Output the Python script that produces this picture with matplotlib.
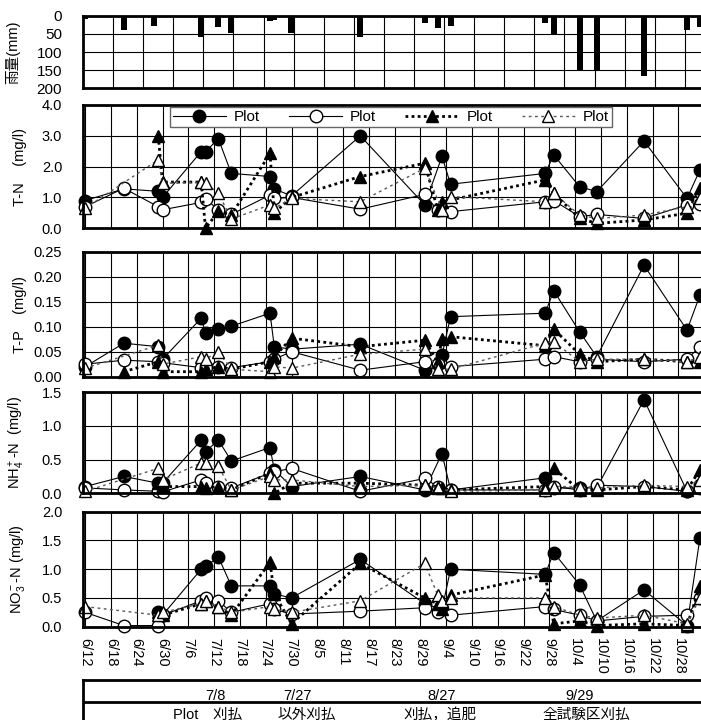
import numpy as np
import matplotlib
matplotlib.use("Agg")
import matplotlib.pyplot as plt
from matplotlib.ticker import MultipleLocator

plt.rcParams['font.family'] = ['Liberation Sans', 'Noto Sans CJK JP']
plt.rcParams['mathtext.fontset'] = 'custom'
plt.rcParams['mathtext.rm'] = 'Liberation Sans'
plt.rcParams['mathtext.it'] = 'Liberation Sans'

# ---- data ----
dates = ["6/12", "6/21", "6/29", "6/30", "7/9", "7/10", "7/13", "7/16", "7/25", "7/26",
         "7/30", "8/15", "8/30", "9/2", "9/3", "9/5", "9/27", "9/29", "10/5", "10/9",
         "10/20", "10/30", "11/2"]
N = None

rain_dates = ["6/12", "6/21", "6/28", "7/9", "7/13", "7/16", "7/25", "7/26", "7/30", "8/15",
              "8/30", "9/2", "9/5", "9/27", "9/29", "10/5", "10/9", "10/20", "10/30", "11/2"]
rain_mm = [10, 39, 28, 60, 32, 47, 14, 12, 47, 60,
           21, 35, 27, 21, 50, 150, 153, 165, 39, 32]

# T-N (mg/l)
tn_1 = [0.90, 1.28, 1.20, 1.00, 2.49, 2.49, 2.90, 1.78, 1.68, 1.28, 1.05, 3.00, 0.76, N, 2.33, 1.43, 1.78, 2.38, 1.35, 1.19, 2.83, 0.97, 1.89]
tn_2 = [0.70, 1.30, 0.70, 0.60, 0.84, 0.95, 0.60, 0.45, 1.08, 0.97, 1.00, 0.62, 1.10, 0.58, N, 0.54, 0.86, 0.90, 0.38, 0.45, 0.32, 0.76, 0.80]
tn_3 = [N, N, 3.00, 1.50, 1.50, 0.00, 0.55, 0.43, 2.43, 0.50, 1.00, 1.68, 2.11, 0.60, 0.86, N, 1.57, 1.14, 0.32, 0.16, 0.27, 0.49, 1.30]
tn_4 = [0.65, N, 2.22, 1.46, 1.49, 1.46, 1.14, 0.30, 0.76, 0.65, 0.97, 0.86, 1.95, N, 0.60, 1.03, 0.86, 1.14, 0.43, 0.32, 0.43, 0.70, 0.97]

# T-P (mg/l)
tp_1 = [0.020, 0.067, 0.060, 0.035, 0.117, 0.088, 0.095, 0.101, 0.127, 0.060, 0.055, 0.065, 0.013, N, 0.043, 0.120, 0.127, 0.172, 0.090, 0.040, 0.223, 0.093, 0.163]
tp_2 = [0.025, 0.033, 0.030, 0.028, 0.018, 0.020, 0.020, 0.018, 0.030, 0.035, 0.050, 0.013, 0.030, 0.025, N, 0.020, 0.035, 0.040, 0.030, 0.035, 0.030, 0.035, 0.060]
tp_3 = [N, 0.010, 0.030, 0.010, 0.010, 0.015, 0.020, 0.015, 0.030, 0.040, 0.077, 0.060, 0.073, 0.030, 0.075, 0.080, 0.062, 0.095, 0.045, 0.030, 0.035, 0.030, 0.030]
tp_4 = [0.017, N, 0.063, 0.025, 0.040, 0.035, 0.050, 0.015, 0.010, 0.020, 0.017, 0.045, 0.055, 0.015, N, 0.015, 0.067, 0.070, 0.030, 0.035, 0.035, 0.030, 0.040]

# NH4+-N (mg/l)
nh_1 = [0.10, 0.25, 0.15, 0.15, 0.79, 0.62, 0.79, 0.48, 0.68, 0.35, 0.10, 0.25, 0.05, N, 0.59, 0.05, 0.23, 0.08, 0.08, 0.08, 1.39, 0.03, 0.12]
nh_2 = [0.08, 0.05, 0.03, 0.02, 0.20, 0.15, 0.10, 0.08, 0.30, 0.32, 0.37, 0.03, 0.22, 0.10, N, 0.05, 0.05, 0.10, 0.05, 0.12, 0.10, 0.03, 0.08]
nh_3 = [N, N, 0.15, 0.10, 0.10, 0.08, 0.10, 0.05, 0.30, 0.00, 0.15, 0.15, 0.12, 0.10, 0.08, 0.05, 0.10, 0.37, 0.05, 0.05, 0.10, 0.05, 0.35]
nh_4 = [0.03, N, 0.37, 0.20, 0.45, 0.45, 0.40, 0.05, 0.25, 0.20, 0.20, 0.10, 0.12, 0.08, N, 0.03, 0.05, 0.10, 0.10, 0.08, 0.12, 0.10, 0.20]

# NO3--N (mg/l)
no_1 = [N, N, 0.25, 0.20, 1.00, 1.05, 1.21, 0.71, 0.71, 0.57, 0.50, 1.17, 0.40, N, 0.30, 1.00, 0.91, 1.29, 0.73, 0.10, 0.64, 0.02, 1.54]
no_2 = [0.25, 0.02, 0.02, 0.20, 0.45, 0.50, 0.45, 0.25, 0.40, 0.30, 0.22, 0.27, 0.33, 0.25, N, 0.20, 0.35, 0.30, 0.20, 0.10, 0.18, 0.20, 0.50]
no_3 = [N, N, 0.25, 0.20, 0.40, 0.45, 0.35, 0.20, 1.12, 0.57, 0.05, 1.10, 0.50, 0.40, 0.30, 0.55, 0.90, 0.05, 0.10, 0.02, 0.05, 0.02, 0.70]
no_4 = [0.35, N, 0.20, 0.25, 0.40, 0.45, 0.35, 0.25, 0.35, 0.30, 0.25, 0.45, 1.10, 0.55, 0.45, 0.50, 0.50, 0.35, 0.20, 0.15, 0.20, 0.05, 0.50]

tick_labels = ["6/12", "6/18", "6/24", "6/30", "7/6", "7/12", "7/18", "7/24", "7/30", "8/5",
               "8/11", "8/17", "8/23", "8/29", "9/4", "9/10", "9/16", "9/22", "9/28", "10/4",
               "10/10", "10/16", "10/22", "10/28", "11/3"]

event_dates = ["7/8", "7/27", "8/27", "9/29"]
event_texts = ["Plot\u3000刈払", "以外刈払", "刈払，追肥", "全試験区刈払"]

MONTH_START = {6: 0, 7: 30, 8: 61, 9: 92, 10: 122, 11: 153}


def to_day(s):
    m, d = s.split('/')
    return MONTH_START[int(m)] + int(d) - 12


x_all = np.array([to_day(s) for s in dates])
W, H = 701, 720
X_LEFT, X_RIGHT = 83, 730
XMIN, XMAX = -0.5, 150


def make_axes(fig, top, bottom):
    return fig.add_axes([X_LEFT / W, 1 - bottom / H, (X_RIGHT - X_LEFT) / W, (bottom - top) / H])


def style_axes(ax, ymax, ystep, fmt, label, label_x=-0.087):
    ax.set_xlim(XMIN, XMAX)
    ax.set_ylim(0, ymax)
    yt = np.arange(0, ymax + ystep / 2, ystep)
    ax.set_yticks(yt)
    ax.set_yticklabels([fmt.format(v) for v in yt], fontsize=10.5)
    ax.set_xticks([to_day(s) for s in tick_labels])
    ax.grid(True, color='black', linewidth=0.8)
    ax.set_axisbelow(True)
    ax.tick_params(length=0, pad=15)
    ax.tick_params(axis='x', labelbottom=False)
    for sp in ax.spines.values():
        sp.set_linewidth(2)
    ax.set_ylabel(label, fontsize=10.5)
    ax.yaxis.set_label_coords(label_x, 0.5)


def plot_series(ax, values):
    s1, s2, s3, s4 = values
    styles = [
        dict(color='black', lw=0.8, ls='-', marker='o', mfc='black', mec='black'),
        dict(color='black', lw=0.8, ls='-', marker='o', mfc='white', mec='black'),
        dict(color='black', lw=2.0, ls=(0, (1, 1.2)), marker='^', mfc='black', mec='black'),
        dict(color='0.35', lw=1.0, ls=(0, (2, 2.5)), marker='^', mfc='white', mec='black'),
    ]
    handles = []
    for vals, st in zip([s1, s2, s3, s4], styles):
        v = np.array([np.nan if a is None else a for a in vals], dtype=float)
        ok = ~np.isnan(v)
        h, = ax.plot(x_all[ok], v[ok], ms=9, mew=1.0, clip_on=False, label='Plot', **st)
        handles.append(h)
    return handles


fig = plt.figure(figsize=(W / 100, H / 100), dpi=100)

# rain
ax_r = make_axes(fig, 15.7, 88.3)
ax_r.bar([to_day(s) for s in rain_dates], rain_mm, width=1.4, color='black')
ax_r.set_xlim(XMIN, XMAX)
ax_r.set_ylim(200, 0)
ax_r.set_yticks([0, 50, 100, 150, 200])
ax_r.set_yticklabels(['0', '50', '100', '150', '200'], fontsize=11)
ax_r.xaxis.set_major_locator(MultipleLocator(7, offset=-0.5))
ax_r.grid(True, color='black', linewidth=0.8)
ax_r.set_axisbelow(True)
ax_r.tick_params(length=0, pad=15, labelbottom=False)
for sp in ax_r.spines.values():
    sp.set_linewidth(2)
ax_r.set_ylabel('雨量(mm)', fontsize=10.5)
ax_r.yaxis.set_label_coords(-0.097, 0.5)

ax_tn = make_axes(fig, 105, 228.3)
style_axes(ax_tn, 4.0, 1.0, '{:.1f}', 'T-N    (mg/l)')
handles = plot_series(ax_tn, [tn_1, tn_2, tn_3, tn_4])
leg = ax_tn.legend(handles=handles, ncol=4, loc='upper left', bbox_to_anchor=(0.134, 0.985),
                   fontsize=11, frameon=True, fancybox=False, edgecolor='0.4',
                   framealpha=1, borderpad=0.2, handlelength=3.5, handletextpad=0.5,
                   columnspacing=1.9, borderaxespad=0)
leg.get_frame().set_linewidth(1.0)

ax_tp = make_axes(fig, 251.7, 376.7)
style_axes(ax_tp, 0.25, 0.05, '{:.2f}', 'T-P    (mg/l)')
plot_series(ax_tp, [tp_1, tp_2, tp_3, tp_4])

ax_nh = make_axes(fig, 392.3, 493.3)
style_axes(ax_nh, 1.5, 0.5, '{:.1f}', 'NH$_4^+$-N  (mg/l)')
plot_series(ax_nh, [nh_1, nh_2, nh_3, nh_4])

ax_no = make_axes(fig, 511.7, 626.7)
style_axes(ax_no, 2.0, 0.5, '{:.1f}', 'NO$_3^-$-N (mg/l)')
plot_series(ax_no, [no_1, no_2, no_3, no_4])
ax_no.tick_params(axis='x', labelbottom=True, pad=8)
ax_no.set_xticklabels(tick_labels, rotation=-90, fontsize=10.5, va='top', ha='center')

# event table under the chart
ax_t = fig.add_axes([X_LEFT / W, 1 - 740 / H, (X_RIGHT - X_LEFT) / W, 60 / H])
ax_t.set_xlim(XMIN, XMAX)
ax_t.set_ylim(0, 1)
ax_t.set_xticks([])
ax_t.set_yticks([])
for sp in ax_t.spines.values():
    sp.set_linewidth(2)
ax_t.axhline(0.638, color='black', lw=2)
date_x = [30.2, 49.3, 83.0, 115.1]
text_x = [28.6, 51.6, 82.6, 116.5]
for s, xd in zip(event_dates, date_x):
    ax_t.text(xd, 0.73, s, ha='center', va='center', fontsize=10.5)
for s, xt in zip(event_texts, text_x):
    ax_t.text(xt, 0.42, s, ha='center', va='center', fontsize=10.5)

fig.savefig('out.png', dpi=100)
